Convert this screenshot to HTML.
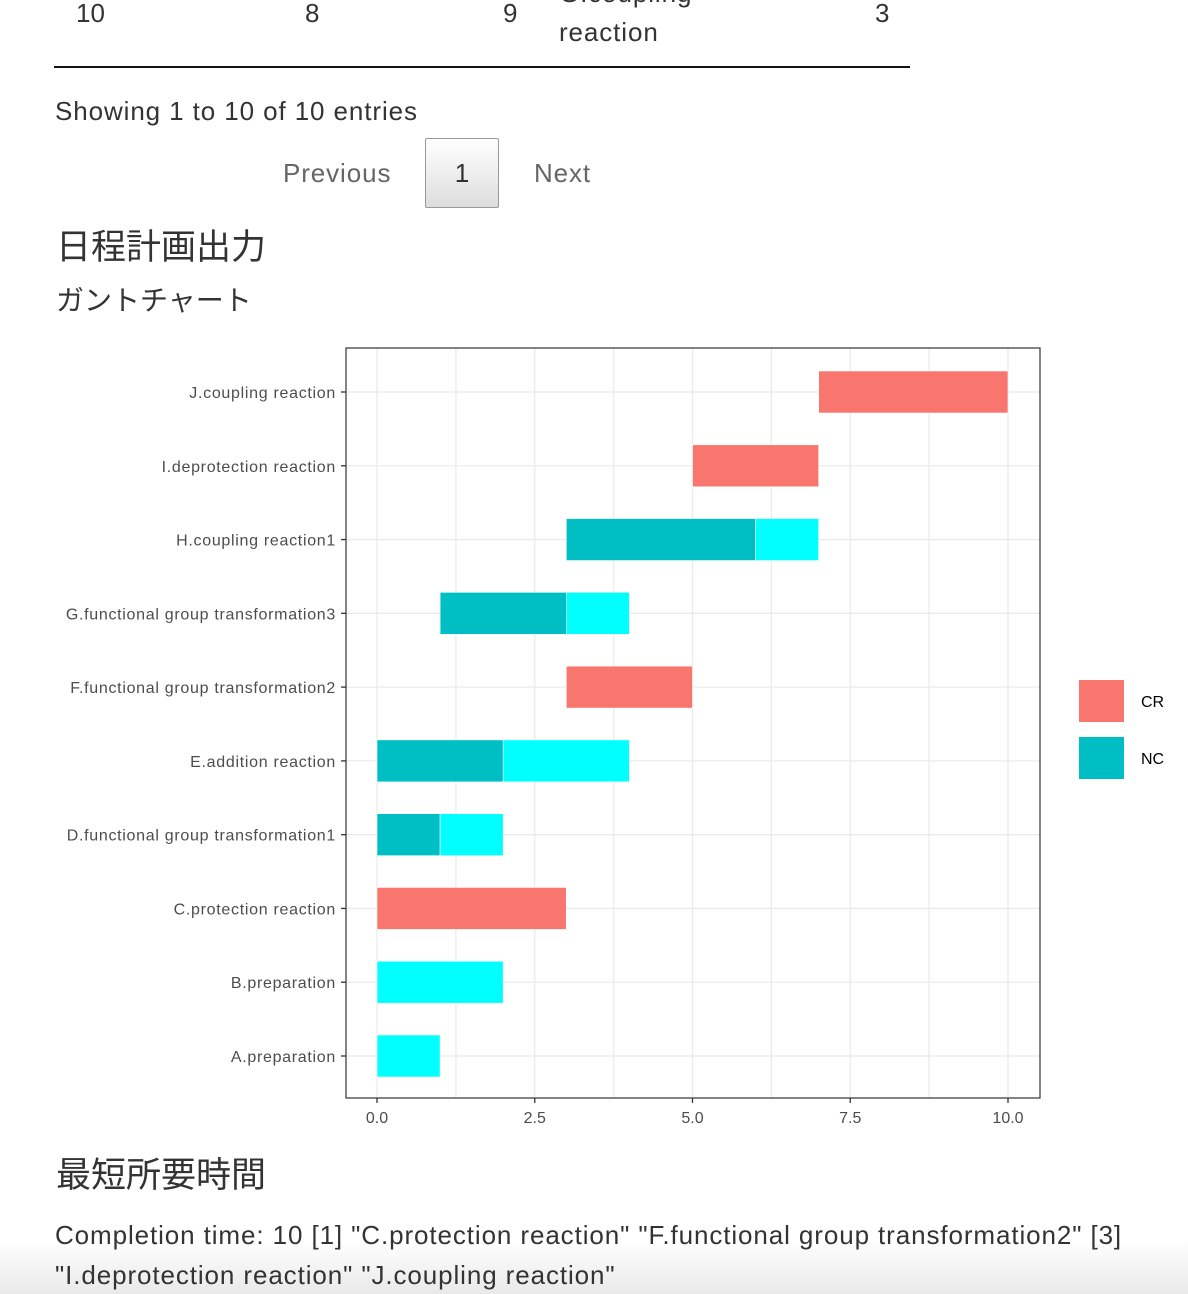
<!DOCTYPE html>
<html><head><meta charset="utf-8"><style>
body{margin:0;width:1188px;height:1294px;overflow:hidden;background:#fff;position:relative;font-family:"Liberation Sans","Noto Sans CJK JP",sans-serif;color:#333}
.t{position:absolute;white-space:nowrap;line-height:1}
.w{letter-spacing:0.9px}
#fade{position:absolute;left:0;top:1240px;width:1188px;height:54px;background:linear-gradient(#fff,#e9e9e9)}
</style></head><body>
<div id="fade"></div>
<div class="t" style="left:76px;top:0px;font-size:26px">10</div>
<div class="t" style="left:305px;top:0px;font-size:26px">8</div>
<div class="t" style="left:503px;top:0px;font-size:26px">9</div>
<div class="t w" style="left:559px;top:-20px;font-size:26px">G.coupling</div>
<div class="t w" style="left:559px;top:19px;font-size:26px">reaction</div>
<div class="t" style="left:875px;top:0px;font-size:26px">3</div>
<div style="position:absolute;left:54px;top:66px;width:856px;height:2px;background:#111"></div>
<div class="t w" style="left:55px;top:98px;font-size:26px">Showing 1 to 10 of 10 entries</div>
<div class="t w" style="left:283px;top:160px;font-size:26px;color:#666">Previous</div>
<div style="position:absolute;left:425px;top:138px;width:72px;height:68px;border:1px solid #999;border-radius:2px;background:linear-gradient(#fff,#ddd);font-size:26px;line-height:68px;text-align:center;color:#333">1</div>
<div class="t w" style="left:534px;top:160px;font-size:26px;color:#666">Next</div>
<div class="t" style="left:56px;top:230px;font-size:35px">日程計画出力</div>
<div class="t" style="left:56px;top:287px;font-size:28px">ガントチャート</div>
<div class="t" style="left:56px;top:1158px;font-size:35px">最短所要時間</div>
<div class="t w" style="left:55px;top:1222px;font-size:26px">Completion time: 10 [1] "C.protection reaction" "F.functional group transformation2" [3]</div>
<div class="t w" style="left:55px;top:1262px;font-size:26px">"I.deprotection reaction" "J.coupling reaction"</div>
<svg id="chart" width="1188" height="1294" style="position:absolute;left:0;top:0" font-family="Liberation Sans, sans-serif"></svg>
<script>
const tasks=["A.preparation","B.preparation","C.protection reaction","D.functional group transformation1","E.addition reaction","F.functional group transformation2","G.functional group transformation3","H.coupling reaction1","I.deprotection reaction","J.coupling reaction"];
const starts=[0,0,0,0,0,3,1,3,5,7];
const crLen=[0,0,3,0,0,2,0,0,2,3];
const ncLen=[0,0,0,1,2,0,2,3,0,0];
const slackLen=[1,2,0,1,2,0,1,1,0,0];
const xTicks=[0,2.5,5,7.5,10];
const xTickLabels=["0.0","2.5","5.0","7.5","10.0"];
const legendKeys=["CR","NC"];
const svg=document.getElementById('chart');
const NS='http://www.w3.org/2000/svg';
const P={l:346,r:1040,t:348,b:1098};
const xs=v=>377+v*(1008-377)/10;
const ys=i=>1056-i*(1056-392)/9;
function mk(t,a,p){const e=document.createElementNS(NS,t);for(const k in a)e.setAttribute(k,a[k]);(p||svg).appendChild(e);return e;}
let g=mk('g',{});


for(let v=-1.25;v<=11.25;v+=1.25){const x=xs(v);if(x<P.l||x>P.r)continue;const l=mk('line',{x1:x,x2:x,y1:P.t,y2:P.b,stroke:'#ebebeb','stroke-width':1.3},g);}
tasks.forEach((n,i)=>{const l=mk('line',{x1:P.l,x2:P.r,y1:ys(i),y2:ys(i),stroke:'#ebebeb','stroke-width':1.3},g);});
const bh=42;
function bar(i,s,len,col,name){if(len<=0)return;const r=mk('rect',{x:xs(s),y:ys(i)-bh/2,width:xs(s+len)-xs(s),height:bh,fill:col,stroke:'#fff','stroke-width':0.6});}
tasks.forEach((n,i)=>{
 let s=starts[i];
 bar(i,s,crLen[i],'#F8766D','bar-cr');s+=crLen[i];
 bar(i,s,ncLen[i],'#00BFC4','bar-nc');s+=ncLen[i];
 bar(i,s,slackLen[i],'#00FFFF','bar-slack');
 const t=mk('text',{x:336,y:ys(i)+6,'text-anchor':'end','font-size':16,'letter-spacing':0.7,fill:'#4d4d4d'});t.textContent=n;
 
 const tk=mk('line',{x1:341,x2:346,y1:ys(i),y2:ys(i),stroke:'#333','stroke-width':1.3});
 
});
const fr=mk('rect',{x:P.l,y:P.t,width:P.r-P.l,height:P.b-P.t,fill:'none',stroke:'#333','stroke-width':1.2});

xTicks.forEach((v,i)=>{
 const tk=mk('line',{x1:xs(v),x2:xs(v),y1:P.b,y2:P.b+5,stroke:'#333','stroke-width':1.3});
 
 const t=mk('text',{x:xs(v),y:1123,'text-anchor':'middle','font-size':16,fill:'#4d4d4d'});t.textContent=xTickLabels[i];
 
});
const lc=['#F8766D','#00BFC4'];
legendKeys.forEach((k,i)=>{
 const r=mk('rect',{x:1079,y:680+i*57,width:45,height:42,fill:lc[i]});
 
 const t=mk('text',{x:1141,y:707+i*57,'font-size':16,fill:'#000'});t.textContent=k;
 
});
</script>
</body></html>
